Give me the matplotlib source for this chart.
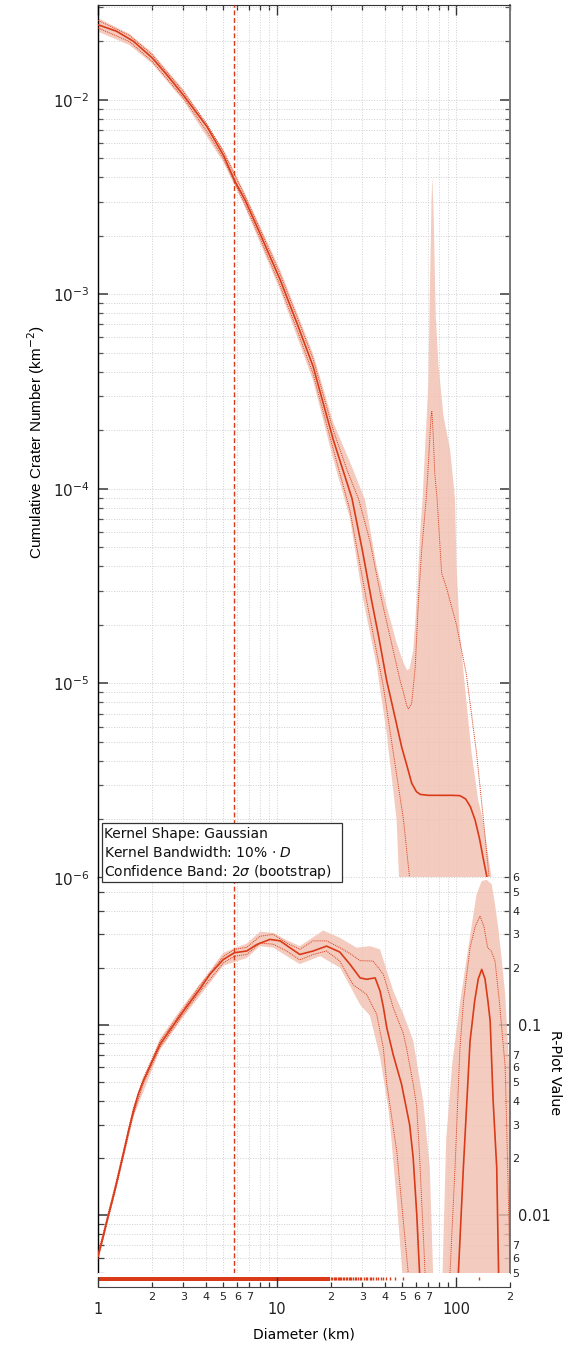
import numpy as np
import matplotlib
matplotlib.use("Agg")
import matplotlib.pyplot as plt
from matplotlib.ticker import LogLocator, FuncFormatter, NullFormatter
from matplotlib.patches import Rectangle

# ---------------- data ----------------
# cumulative crater number: central estimate
D_cum = [1.0, 1.27, 1.575, 2.01, 2.42, 2.99, 4.05, 5.01, 5.83, 6.62, 8.0, 10.4, 12.9, 15.9,
         20.6, 26.2, 30.0, 33.7, 37.0, 40.9, 45.0, 49.6, 53.0, 56.5, 60.0, 63.0, 70.0, 80.0,
         95.0, 105.0, 113.0, 120.0, 127.6, 135.0, 142.0, 149.0, 160.0]
N_cum = [0.0243, 0.0225, 0.0200, 0.0164, 0.01346, 0.0106, 0.0073, 0.0052, 0.0038, 0.00306,
         0.00207, 0.00119, 7.13e-4, 4.26e-4, 1.79e-4, 8.95e-5, 4.8e-5, 2.68e-5, 1.73e-5,
         1.04e-5, 7.07e-6, 4.73e-6, 3.81e-6, 3.07e-6, 2.78e-6, 2.69e-6, 2.66e-6, 2.66e-6,
         2.66e-6, 2.65e-6, 2.55e-6, 2.33e-6, 1.99e-6, 1.6e-6, 1.25e-6, 1.0e-6, 6.0e-7]
# upper dotted (1 sigma)
D_hi = [1.0, 1.5, 2.0, 3.0, 4.0, 5.0, 6.6, 8.0, 10.4, 12.9, 15.9, 20.6, 24.6, 28.6, 33.0,
        38.4, 44.6, 48.6, 50.8, 53.0, 54.1, 56.5, 59.1, 61.6, 64.3, 68.0, 70.5, 72.4, 73.2,
        74.5, 76.0, 78.3, 83.0, 88.4, 100.5, 114.0, 130.0, 141.0, 153.0, 165.0]
N_hi = [0.0256, 0.0214, 0.0171, 0.0110, 0.00765, 0.00545, 0.00322, 0.00218, 0.00127, 7.7e-4,
        4.65e-4, 2.0e-4, 1.25e-4, 8.8e-5, 5.4e-5, 2.68e-5, 1.47e-5, 1.04e-5, 9.0e-6, 7.7e-6,
        7.4e-6, 7.9e-6, 1.21e-5, 2.68e-5, 4.9e-5, 8.8e-5, 1.5e-4, 2.35e-4, 2.5e-4, 1.9e-4,
        1.2e-4, 8.9e-5, 3.7e-5, 3.1e-5, 2.0e-5, 1.12e-5, 4.4e-6, 2.14e-6, 1.0e-6, 4e-7]
# lower dotted
D_lo = [1.0, 1.5, 2.0, 3.0, 4.0, 5.0, 6.6, 8.0, 10.4, 12.9, 15.9, 20.6, 25.5, 31.6, 39.2,
        44.6, 50.8, 55.0, 60.0]
N_lo = [0.0234, 0.0199, 0.0158, 0.0102, 0.0070, 0.0050, 0.00292, 0.00196, 0.00111, 6.6e-4,
        3.9e-4, 1.6e-4, 7.8e-5, 2.68e-5, 9.7e-6, 4.4e-6, 2.0e-6, 1.0e-6, 3e-7]
# confidence band (2 sigma, bootstrap)
D_bu = [1.0, 1.5, 2.0, 3.0, 5.0, 6.6, 10.4, 15.9, 20.6, 26.2, 31.0, 36.0, 40.9, 46.5, 50.8,
        53.2, 54.9, 57.6, 60.3, 62.9, 65.0, 70.0, 71.5, 72.9, 73.7, 75.0, 77.0, 79.8, 85.0,
        92.5, 98.6, 100.6, 105.0, 112.0, 122.0, 133.0, 141.0, 158.0, 170.0]
N_bu = [0.0263, 0.0218, 0.0175, 0.0113, 0.0056, 0.00332, 0.00134, 4.95e-4, 2.2e-4, 1.3e-4,
        8.8e-5, 4.0e-5, 2.5e-5, 1.62e-5, 1.28e-5, 1.17e-5, 1.19e-5, 1.47e-5, 2.68e-5, 5.9e-5,
        9.0e-5, 3.5e-4, 1.14e-3, 3.06e-3, 4.0e-3, 2.5e-3, 7.7e-4, 4.3e-4, 2.37e-4, 1.6e-4,
        8.95e-5, 4.0e-5, 1.8e-5, 9.7e-6, 4.4e-6, 2.5e-6, 2.0e-6, 1.0e-6, 3e-7]
D_bl = [1.0, 1.5, 2.0, 3.0, 5.0, 6.6, 10.4, 15.9, 20.6, 25.5, 30.3, 36.0, 40.9, 46.5, 48.0,
        50.0, 210.0]
N_bl = [0.0224, 0.0191, 0.0154, 0.0099, 0.0048, 0.00282, 0.00105, 3.6e-4, 1.42e-4, 7.1e-5,
        2.68e-5, 1.23e-5, 5.6e-6, 2.0e-6, 1.0e-6, 1e-8, 1e-8]

# R-plot: central estimate
D_r = [1.0, 1.06, 1.13, 1.2, 1.27, 1.385, 1.48, 1.575, 1.68, 1.79, 2.0, 2.22, 2.52, 2.99,
       3.71, 4.22, 5.01, 5.78, 6.77, 7.7, 9.14, 10.4, 11.8, 13.4, 15.9, 18.9, 22.4, 25.5,
       29.1, 31.6, 35.3, 37.6, 39.2, 41.0, 44.5, 49.6, 55.0, 57.6, 60.3, 62.5, 64.0, 70.0,
       95.0, 101.0, 103.0, 109.8, 119.6, 127.0, 133.0, 139.0, 145.0, 150.5, 155.0, 161.0,
       168.6, 172.5, 175.0, 180.0]
R_mid = [0.0061, 0.0075, 0.0096, 0.0119, 0.0148, 0.021, 0.0277, 0.0350, 0.0435, 0.0508,
         0.064, 0.0792, 0.094, 0.118, 0.155, 0.185, 0.221, 0.240, 0.245, 0.265, 0.282, 0.277,
         0.255, 0.235, 0.245, 0.26, 0.242, 0.209, 0.177, 0.174, 0.177, 0.151, 0.125, 0.0968,
         0.070, 0.0488, 0.030, 0.020, 0.0101, 0.005, 0.002, 1e-5, 1e-5, 0.002, 0.005, 0.0178,
         0.082, 0.134, 0.175, 0.196, 0.175, 0.134, 0.105, 0.040, 0.0178, 0.0053, 0.002, 1e-5]
D_rhi = [1.0, 1.13, 1.27, 1.385, 1.575, 1.79, 2.22, 2.99, 3.71, 5.01, 5.78, 6.77, 8.04, 9.53,
         11.3, 13.4, 15.9, 18.9, 22.5, 26.0, 29.1, 34.4, 39.2, 44.6, 50.8, 52.8, 57.6, 60.3,
         62.3, 67.1, 70.0, 90.0, 92.5, 98.6, 105.0, 110.0, 119.6, 128.0, 136.0, 143.0, 150.0,
         157.0, 165.0, 175.0, 188.0, 195.0, 200.0, 205.0]
R_hi = [0.0063, 0.0099, 0.0153, 0.0217, 0.0362, 0.0525, 0.082, 0.121, 0.161, 0.229, 0.250,
        0.256, 0.293, 0.300, 0.27, 0.25, 0.277, 0.277, 0.255, 0.235, 0.218, 0.217, 0.185,
        0.123, 0.09, 0.076, 0.049, 0.037, 0.0218, 0.005, 0.001, 0.001, 0.005, 0.0178, 0.075,
        0.134, 0.255, 0.33, 0.374, 0.33, 0.255, 0.245, 0.217, 0.129, 0.06, 0.0151, 0.005,
        0.001]
D_rlo = [1.0, 1.13, 1.27, 1.385, 1.575, 1.79, 2.22, 2.99, 3.71, 5.01, 5.78, 6.77, 8.04, 9.53,
         11.3, 13.4, 15.9, 18.9, 22.4, 26.6, 31.6, 36.0, 39.2, 41.0, 46.6, 54.0, 57.0]
R_lo = [0.0059, 0.0093, 0.0143, 0.0203, 0.0338, 0.0491, 0.0765, 0.114, 0.150, 0.212, 0.230,
        0.235, 0.270, 0.266, 0.245, 0.22, 0.235, 0.245, 0.217, 0.163, 0.145, 0.114, 0.076,
        0.049, 0.0218, 0.005, 0.001]
D_rbu = [1.0, 1.27, 1.575, 2.22, 2.99, 5.01, 6.77, 8.04, 9.53, 11.3, 13.4, 18.1, 22.5, 27.8,
         33.0, 37.6, 44.6, 50.8, 57.6, 65.5, 71.3, 74.4, 76.0, 82.0, 84.0, 88.0, 95.0, 105.0,
         114.0, 122.0, 130.0, 139.0, 148.0, 158.0, 165.0, 172.0, 180.0, 188.0, 200.0, 215.0]
R_bu = [0.0064, 0.0156, 0.0375, 0.085, 0.126, 0.240, 0.268, 0.31, 0.305, 0.28, 0.26, 0.314,
        0.287, 0.255, 0.26, 0.25, 0.151, 0.114, 0.083, 0.04, 0.0178, 0.005, 1e-4, 1e-4,
        0.005, 0.025, 0.062, 0.13, 0.217, 0.33, 0.485, 0.571, 0.58, 0.55, 0.43, 0.324, 0.22,
        0.145, 0.05, 0.01]
D_rbl = [1.0, 1.27, 1.575, 2.22, 2.99, 5.01, 6.77, 8.04, 9.53, 13.4, 17.4, 22.5, 25.6, 29.1,
         33.0, 37.6, 41.9, 42.8, 46.6, 50.1, 52.0, 215.0]
R_bl = [0.0058, 0.0140, 0.0328, 0.074, 0.110, 0.205, 0.225, 0.26, 0.255, 0.209, 0.23, 0.2,
        0.16, 0.128, 0.112, 0.068, 0.036, 0.030, 0.0119, 0.005, 1e-4, 1e-4]

# crater diameters (rug): dense continuous coverage, then individual craters
rug_dense = (1.0, 19.8)
rug_sparse = [20.0, 20.3, 20.7, 21.0, 21.4, 21.8, 22.1, 22.5, 22.9, 23.3, 23.8, 24.2, 24.6,
              25.1, 25.6, 26.0, 26.6, 27.1, 27.7, 28.4, 29.0, 29.6, 30.4, 31.2, 32.0, 32.9,
              33.6, 34.5, 35.5, 36.6, 37.9, 39.1, 40.7, 42.8, 45.5, 50.6, 134.0]

D_limit = 5.75
legend_lines = ["Kernel Shape: Gaussian",
                "Kernel Bandwidth: 10% \u00b7 $D$",
                r"Confidence Band: 2$\sigma$ (bootstrap)"]

# ---------------- styling ----------------
RED = "#da3a18"
BAND = "#f2c0b0"
GRID = "#cfcfcf"
plt.rcParams['font.family'] = ['DejaVu Sans']
plt.rcParams['mathtext.fontset'] = 'dejavusans'

W, H = 570, 1346
fig = plt.figure(figsize=(W / 100, H / 100), dpi=100)


def rect(x0, y0, x1, y1):
    return [x0 / W, 1 - y1 / H, (x1 - x0) / W, (y1 - y0) / H]


ax1 = fig.add_axes(rect(98, 5, 510, 878))
ax2 = fig.add_axes(rect(98, 877, 510, 1272.6))
ax3 = fig.add_axes(rect(98, 1272.6, 510, 1287))

for ax in (ax1, ax2, ax3):
    ax.set_xscale('log')
    ax.set_xlim(1, 200)
    ax.xaxis.set_major_locator(LogLocator(10, numticks=20))
    ax.xaxis.set_minor_locator(LogLocator(10, subs=np.arange(2, 10), numticks=20))


def minor_fmt(v, p):
    e = np.floor(np.log10(v) + 1e-9)
    m = int(round(v / 10 ** e))
    return str(m) if 2 <= m <= 7 else ""


# ---- top panel ----
ax1.set_yscale('log')
ax1.set_ylim(1e-6, 3.07e-2)
ax1.set_axisbelow(True)
ax1.grid(True, which='both', color=GRID, ls=':', lw=0.7)
ax1.fill(np.concatenate([D_bu, D_bl[::-1]]), np.concatenate([N_bu, N_bl[::-1]]),
         color=BAND, alpha=0.8, lw=0, zorder=1)
ax1.plot(D_hi, N_hi, color=RED, lw=0.7, ls=(0, (1, 1)), zorder=3)
ax1.plot(D_lo, N_lo, color=RED, lw=0.7, ls=(0, (1, 1)), zorder=3)
ax1.plot(D_cum, N_cum, color=RED, lw=1.2, zorder=4)
ax1.axvline(D_limit, color=RED, lw=1.0, ls=(0, (3.5, 2)), zorder=3)
ax1.yaxis.set_major_locator(LogLocator(10, numticks=20))
ax1.yaxis.set_minor_locator(LogLocator(10, subs=np.arange(2, 10), numticks=20))
ax1.yaxis.set_minor_formatter(NullFormatter())
ax1.tick_params(axis='y', which='both', direction='in', left=True, right=True,
                labelleft=True, labelright=False, colors='#555555', labelcolor='#222222')
ax1.tick_params(axis='y', which='major', length=7.5, width=1.3, labelsize=11, pad=6)
ax1.tick_params(axis='y', which='minor', length=3.8, width=0.9)
ax1.tick_params(axis='x', which='both', direction='in', top=True, bottom=False,
                labeltop=False, labelbottom=False, colors='#333333')
ax1.tick_params(axis='x', which='major', length=7.5, width=1.0)
ax1.tick_params(axis='x', which='minor', length=3.5, width=0.9)
ax1.spines['bottom'].set_visible(False)
ax1.spines['right'].set_color('#777777')
ax1.spines['right'].set_linewidth(1.4)
ax1.spines['left'].set_linewidth(1.0)
ax1.spines['top'].set_color('#333333')

# ---- R panel ----
ax2.set_yscale('log')
ax2.set_ylim(0.005, 0.6)
ax2.set_axisbelow(True)
ax2.grid(True, which='both', color=GRID, ls=':', lw=0.7)
ax2.fill(np.concatenate([D_rbu, D_rbl[::-1]]), np.concatenate([R_bu, R_bl[::-1]]),
         color=BAND, alpha=0.8, lw=0, zorder=1)
ax2.plot(D_rhi, R_hi, color=RED, lw=0.7, ls=(0, (1, 1)), zorder=3)
ax2.plot(D_rlo, R_lo, color=RED, lw=0.7, ls=(0, (1, 1)), zorder=3)
ax2.plot(D_r, R_mid, color=RED, lw=1.2, zorder=4)
ax2.axvline(D_limit, color=RED, lw=1.0, ls=(0, (3.5, 2)), zorder=3)
ax2.yaxis.set_major_locator(LogLocator(10, numticks=20))
ax2.yaxis.set_minor_locator(LogLocator(10, subs=np.arange(2, 10), numticks=20))
ax2.yaxis.set_major_formatter(FuncFormatter(lambda v, p: f"{v:g}"))
ax2.yaxis.set_minor_formatter(FuncFormatter(minor_fmt))
ax2.tick_params(axis='y', which='both', direction='in', left=True, right=True,
                labelleft=False, labelright=True, colors='#444444', labelcolor='#222222')
ax2.tick_params(axis='y', which='major', length=8, width=1.2, labelsize=10.5, pad=6)
ax2.tick_params(axis='y', which='minor', length=4, width=0.9, labelsize=8, pad=1.5)
ax2.tick_params(axis='x', which='both', bottom=False, top=False, labelbottom=False)
ax2.spines['top'].set_visible(False)
ax2.spines['bottom'].set_visible(False)
ax2.spines['right'].set_color('#777777')
ax2.spines['right'].set_linewidth(1.4)
ax2.spines['left'].set_linewidth(1.0)

# ---- rug / x axis ----
ax3.set_ylim(0, 1)
ax3.set_yticks([])
for s in ('left', 'right', 'top'):
    ax3.spines[s].set_visible(False)
ax3.spines['bottom'].set_color('#444444')
ax3.axvspan(rug_dense[0], rug_dense[1], ymin=0.44, ymax=0.72, color=RED, lw=0)
ax3.vlines(rug_sparse, 0.46, 0.70, color=RED, lw=1.0)
ax3.xaxis.set_major_formatter(FuncFormatter(lambda v, p: f"{v:g}"))
ax3.xaxis.set_minor_formatter(FuncFormatter(minor_fmt))
ax3.tick_params(axis='x', which='both', direction='in', bottom=True, top=False,
                colors='#333333', labelcolor='#222222')
ax3.tick_params(axis='x', which='major', length=7.2, width=1.0, labelsize=10.5, pad=11)
ax3.tick_params(axis='x', which='minor', length=3.6, width=0.9, labelsize=8, pad=3.5)

# ---- legend box ----
fig.add_artist(Rectangle((101.7 / W, 1 - 881.7 / H), 240 / W, 59 / H,
                         transform=fig.transFigure, fc='white', ec='#333333',
                         lw=0.9, zorder=10))
for i, t in enumerate(legend_lines):
    fig.text(104 / W, 1 - (834 + 18.9 * i) / H, t, ha='left', va='center',
             fontsize=10, color='#111111', zorder=11)

# ---- axis labels ----
fig.text(36 / W, 1 - 442 / H, "Cumulative Crater Number (km$^{-2}$)", rotation=90,
         ha='center', va='center', fontsize=11, family=['Liberation Sans', 'DejaVu Sans'])
fig.text(555 / W, 1 - 1073 / H, "R-Plot Value", rotation=270, ha='center', va='center',
         fontsize=10.3)
fig.text(304 / W, 1 - 1335 / H, "Diameter (km)", ha='center', va='center', fontsize=10)

fig.savefig("out.png", dpi=100)
